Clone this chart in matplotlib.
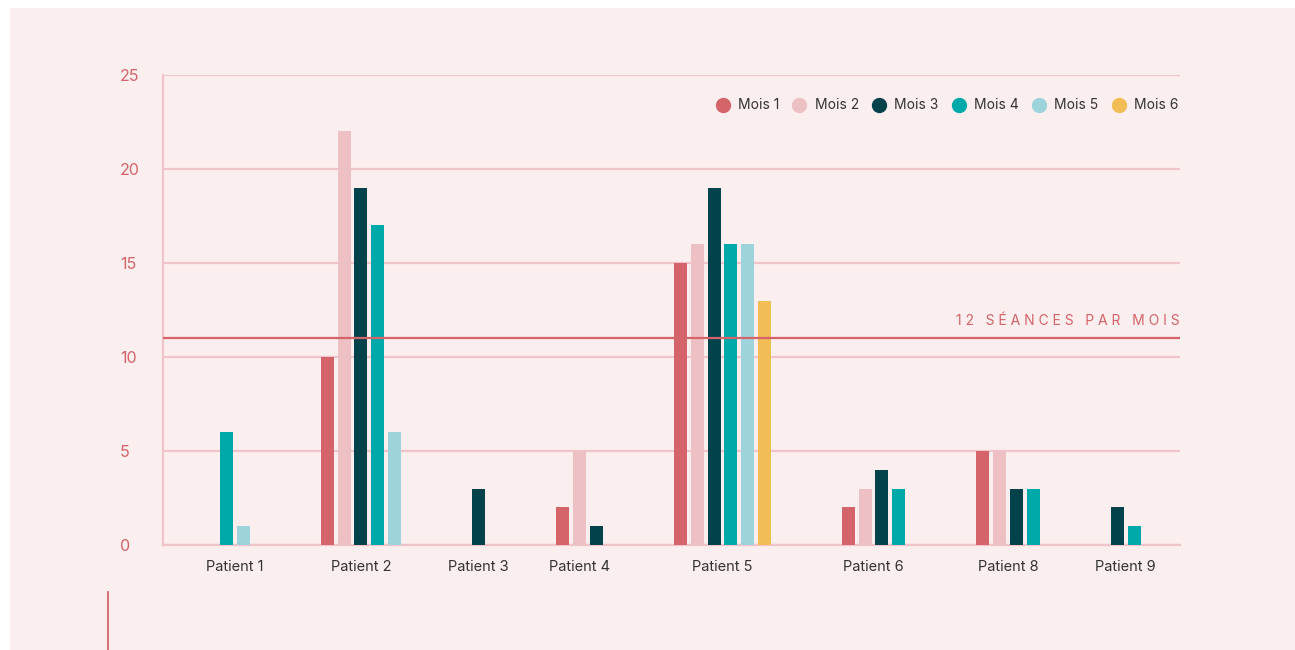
import numpy as np
import matplotlib
matplotlib.use("Agg")
import matplotlib.pyplot as plt
from matplotlib.patches import Rectangle
from matplotlib.lines import Line2D

plt.rcParams["font.family"] = ["Inter", "DejaVu Sans"]

patients = ["Patient 1", "Patient 2", "Patient 3", "Patient 4",
            "Patient 5", "Patient 6", "Patient 8", "Patient 9"]
months = ["Mois 1", "Mois 2", "Mois 3", "Mois 4", "Mois 5", "Mois 6"]
# 0 = no bar for that month
mois1 = [0, 10, 0, 2, 15, 2, 5, 0]
mois2 = [0, 22, 0, 5, 16, 3, 5, 0]
mois3 = [0, 19, 3, 1, 19, 4, 3, 2]
mois4 = [6, 17, 0, 0, 16, 3, 3, 1]
mois5 = [1, 6, 0, 0, 16, 0, 0, 0]
mois6 = [0, 0, 0, 0, 13, 0, 0, 0]
threshold = 11
threshold_label = "12 SÉANCES PAR MOIS"

colors = ["#d4636a", "#edc0c3", "#02434b", "#00a9a9", "#9dd4dc", "#f2bd55"]
BG = "#fbeeee"
GRID = "#f0c4c8"
RED = "#d4636a"

series = np.array([mois1, mois2, mois3, mois4, mois5, mois6])
counts = (series > 0).sum(axis=0)

# groups only hold their non-empty bars; fixed gap between groups
GAP = 5.05
centers = [0.0]
for i in range(1, len(patients)):
    centers.append(centers[-1] + (counts[i - 1] - 1) / 2 + (counts[i] - 1) / 2 + GAP)
centers = np.array(centers)

fig = plt.figure(figsize=(12.95, 6.5), dpi=100, facecolor="white")
fig.add_artist(Rectangle((10 / 1295, 0), 1, 1 - 8 / 650, transform=fig.transFigure,
                         facecolor=BG, edgecolor="none", zorder=-10))
fig.add_artist(Line2D([108 / 1295, 108 / 1295], [0, 1 - 592 / 650], transform=fig.transFigure,
                      color=RED, lw=1.3))

ax = fig.add_axes([163 / 1295, 1 - 545 / 650, 1017 / 1295, 470 / 650])
ax.set_facecolor("none")

for i, c in enumerate(centers):
    idx = np.where(series[:, i] > 0)[0]
    xs = c + np.arange(len(idx)) - (len(idx) - 1) / 2
    for x, m in zip(xs, idx):
        ax.bar(x, series[m, i], width=0.78, color=colors[m], zorder=3)

for m, name in enumerate(months):
    ax.plot([], [], "o", ms=10, color=colors[m], label=name)

ax.set_xlim(centers[0] - (counts[0] - 1) / 2 - 3.8,
            centers[-1] + (counts[-1] - 1) / 2 + 2.75)
ax.set_ylim(0, 25)
ax.set_yticks([0, 5, 10, 15, 20, 25])
ax.set_xticks(centers)
ax.set_xticklabels(patients)
ax.grid(axis="y", color=GRID, lw=1.6, zorder=1)
ax.tick_params(axis="y", length=0, pad=31, labelsize=11.5, labelcolor=RED)
ax.tick_params(axis="x", length=0, pad=11, labelsize=10.5, labelcolor="#333333")
for lab in ax.get_yticklabels():
    lab.set_horizontalalignment("left")
for s in ["top", "right"]:
    ax.spines[s].set_visible(False)
for s in ["left", "bottom"]:
    ax.spines[s].set_color(GRID)
    ax.spines[s].set_linewidth(1.6)

ax.axhline(threshold, color=RED, lw=1.6, zorder=4)
ax.text(1.0, threshold + 0.55, " ".join(threshold_label),
        transform=ax.get_yaxis_transform(), ha="right", va="bottom",
        color=RED, fontsize=10)

ax.legend(loc="upper right", bbox_to_anchor=(1.004, 0.962), ncol=6, frameon=False,
          fontsize=10, handletextpad=0.6, columnspacing=0.95, handlelength=1.0,
          labelcolor="#333333", borderaxespad=0)

fig.savefig("out.png", dpi=100, facecolor="white")
